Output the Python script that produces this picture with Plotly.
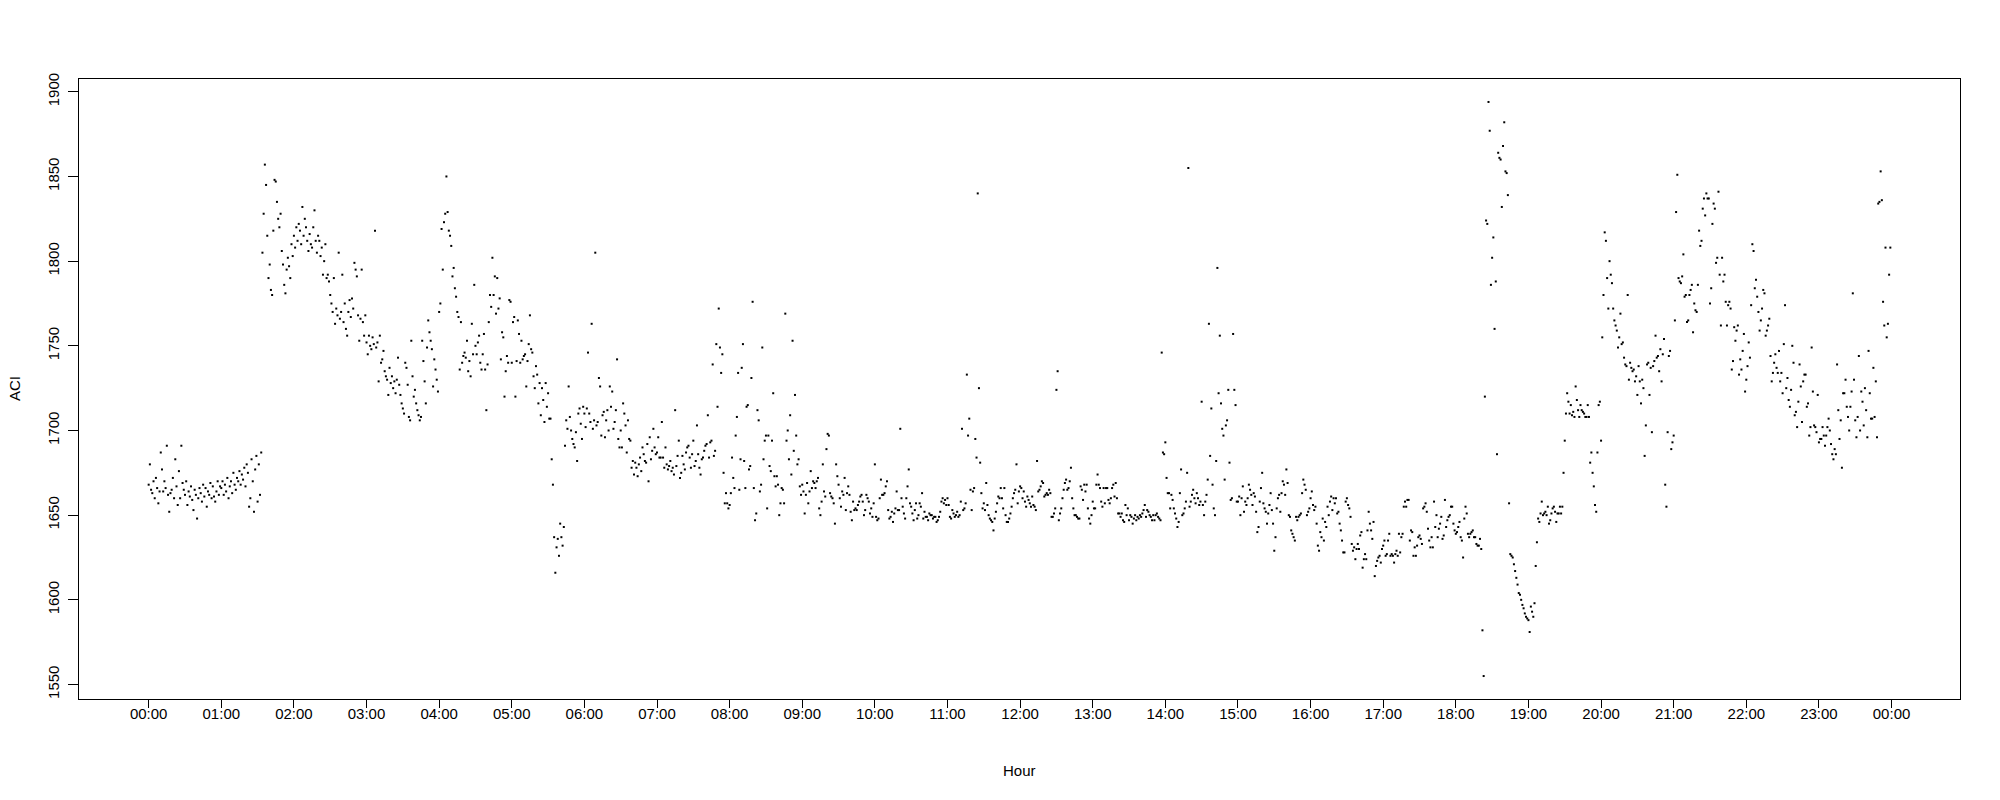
import plotly.graph_objects as go

# ---- axis labels ----
tick_labels = ["00:00", "01:00", "02:00", "03:00", "04:00", "05:00", "06:00", "07:00",
               "08:00", "09:00", "10:00", "11:00", "12:00", "13:00", "14:00", "15:00",
               "16:00", "17:00", "18:00", "19:00", "20:00", "21:00", "22:00", "23:00", "00:00"]
tick_minutes = [h * 60 for h in range(len(tick_labels))]
y_ticks = [1550, 1600, 1650, 1700, 1750, 1800, 1850, 1900]

# ---- ACI values, one per minute, grouped by hour ----
aci_h00 = [1668, 1680, 1665, 1663, 1670, 1660, 1672, 1666, 1657, 1664,
           1687, 1677, 1664, 1670, 1666, 1691, 1662, 1652, 1663, 1665,
           1672, 1660, 1683, 1667, 1656, 1676, 1660, 1691, 1669, 1665,
           1662, 1670, 1656, 1664, 1661, 1667, 1659, 1653, 1665, 1662,
           1648, 1660, 1666, 1663, 1658, 1668, 1661, 1666, 1655, 1664,
           1662, 1669, 1660, 1667, 1661, 1658, 1664, 1670, 1662, 1667]
aci_h01 = [1666, 1670, 1662, 1668, 1664, 1672, 1660, 1667, 1670, 1663,
           1675, 1668, 1665, 1672, 1670, 1676, 1668, 1674, 1671, 1678,
           1667, 1680, 1675, 1655, 1660, 1683, 1670, 1652, 1677, 1685,
           1658, 1680, 1662, 1687,
           1805, 1828, 1857, 1845, 1815, 1790, 1798, 1783, 1780, 1818,
           1848, 1847, 1835, 1825, 1820, 1828, 1806, 1798, 1786, 1781,
           1795, 1802, 1797, 1790, 1810, 1803]
aci_h02 = [1815, 1808, 1820, 1812, 1822, 1818, 1810, 1832, 1815, 1825,
           1820, 1812, 1806, 1816, 1810, 1808, 1820, 1830, 1812, 1805,
           1815, 1812, 1803, 1808, 1792, 1800, 1810, 1790, 1792, 1788,
           1780, 1775, 1770, 1790, 1763, 1772, 1768, 1805, 1766, 1770,
           1792, 1764, 1775, 1760, 1756, 1770, 1777, 1767, 1778, 1772,
           1799, 1795, 1791, 1768, 1753, 1766, 1795, 1764, 1756, 1768]
aci_h03 = [1752, 1745, 1756, 1750, 1748, 1755, 1751, 1818, 1749, 1752,
           1729, 1756, 1740, 1742, 1747, 1735, 1732, 1730, 1721, 1737,
           1728, 1732, 1725, 1729, 1722, 1730, 1743, 1727, 1721, 1716,
           1713, 1710, 1740, 1737, 1727, 1708, 1706, 1753, 1732, 1720,
           1724, 1716, 1712, 1709, 1706, 1708, 1753, 1741, 1729, 1716,
           1749, 1765, 1758, 1753, 1748, 1726, 1742, 1736, 1730, 1723]
aci_h04 = [1770, 1775, 1819, 1795, 1823, 1828, 1850, 1829, 1818, 1815,
           1809, 1791, 1796, 1784, 1779, 1770, 1767, 1736, 1764, 1740,
           1744, 1746, 1743, 1753, 1735, 1741, 1732, 1763, 1745, 1786,
           1750, 1745, 1752, 1756, 1740, 1736, 1745, 1757, 1736, 1712,
           1739, 1764, 1780, 1773, 1802, 1780, 1791, 1769, 1790, 1772,
           1778, 1742, 1758, 1755, 1720, 1735, 1744, 1740, 1777, 1776]
aci_h05 = [1740, 1764, 1767, 1720, 1741, 1765, 1757, 1740, 1753, 1742,
           1744, 1745, 1726, 1741, 1751, 1768, 1748, 1746, 1732, 1725,
           1738, 1733, 1716, 1728, 1709, 1725, 1718, 1705, 1728, 1714,
           1722, 1707, 1707, 1683, 1668, 1637, 1616, 1631, 1636, 1626,
           1645, 1637, 1632, 1643, 1691, 1706, 1701, 1726, 1708, 1700,
           1695, 1692, 1690, 1699, 1682, 1710, 1713, 1704, 1695, 1714]
aci_h06 = [1710, 1702, 1713, 1746, 1710, 1705, 1763, 1701, 1706, 1805,
           1703, 1705, 1731, 1726, 1697, 1709, 1711, 1696, 1706, 1712,
           1700, 1726, 1714, 1723, 1701, 1705, 1712, 1742, 1695, 1690,
           1700, 1690, 1716, 1710, 1703, 1687, 1706, 1695, 1694, 1678,
           1682, 1674, 1681, 1678, 1673, 1680, 1684, 1676, 1690, 1686,
           1682, 1681, 1692, 1670, 1696, 1683, 1688, 1701, 1690, 1686]
aci_h07 = [1687, 1696, 1684, 1684, 1705, 1684, 1678, 1690, 1680, 1677,
           1679, 1682, 1676, 1678, 1674, 1712, 1679, 1685, 1694, 1672,
           1675, 1685, 1680, 1677, 1687, 1690, 1691, 1684, 1678, 1686,
           1694, 1679, 1682, 1703, 1686, 1678, 1674, 1683, 1684, 1688,
           1691, 1692, 1709, 1684, 1693, 1694, 1739, 1685, 1688, 1751,
           1714, 1772, 1749, 1734, 1745, 1675, 1657, 1663, 1657, 1654]
aci_h08 = [1656, 1663, 1684, 1672, 1666, 1697, 1708, 1734, 1665, 1683,
           1737, 1751, 1682, 1666, 1714, 1715, 1677, 1679, 1731, 1776,
           1666, 1647, 1651, 1712, 1706, 1664, 1668, 1749, 1683, 1694,
           1697, 1654, 1697, 1679, 1676, 1694, 1722, 1673, 1667, 1673,
           1668, 1650, 1657, 1666, 1665, 1657, 1769, 1694, 1700, 1683,
           1709, 1674, 1753, 1688, 1721, 1697, 1680, 1683, 1667, 1662]
aci_h09 = [1668, 1664, 1651, 1662, 1669, 1657, 1664, 1676, 1666, 1670,
           1669, 1666, 1670, 1672, 1654, 1650, 1658, 1680, 1664, 1661,
           1689, 1698, 1697, 1663, 1661, 1660, 1657, 1645, 1680, 1673,
           1668, 1660, 1655, 1664, 1662, 1672, 1653, 1663, 1667, 1662,
           1652, 1647, 1658, 1653, 1654, 1653, 1656, 1658, 1661, 1662,
           1658, 1650, 1653, 1662, 1660, 1658, 1651, 1654, 1649, 1657]
aci_h10 = [1680, 1649, 1647, 1648, 1660, 1671, 1662, 1662, 1663, 1667,
           1670, 1653, 1648, 1649, 1652, 1646, 1651, 1654, 1664, 1653,
           1653, 1701, 1660, 1655, 1651, 1648, 1660, 1667, 1677, 1657,
           1655, 1651, 1647, 1653, 1657, 1648, 1650, 1657, 1655, 1663,
           1648, 1652, 1649, 1649, 1647, 1651, 1650, 1650, 1648, 1649,
           1649, 1646, 1647, 1649, 1652, 1658, 1660, 1657, 1659, 1656]
aci_h11 = [1660, 1656, 1649, 1648, 1653, 1651, 1649, 1650, 1652, 1649,
           1650, 1658, 1701, 1653, 1654, 1657, 1733, 1697, 1707, 1665,
           1653, 1664, 1666, 1695, 1684, 1840, 1725, 1681, 1663, 1654,
           1657, 1653, 1669, 1656, 1650, 1648, 1647, 1646, 1641, 1648,
           1652, 1657, 1661, 1660, 1666, 1660, 1654, 1666, 1650, 1646,
           1646, 1648, 1651, 1655, 1660, 1663, 1665, 1680, 1657, 1664]
aci_h12 = [1667, 1666, 1660, 1664, 1658, 1655, 1661, 1659, 1657, 1655,
           1661, 1656, 1655, 1653, 1682, 1664, 1665, 1667, 1670, 1669,
           1661, 1662, 1663, 1662, 1665, 1663, 1649, 1649, 1651, 1654,
           1724, 1735, 1647, 1651, 1654, 1660, 1665, 1669, 1671, 1665,
           1666, 1670, 1678, 1660, 1654, 1650, 1650, 1649, 1648, 1648,
           1667, 1665, 1659, 1668, 1664, 1668, 1654, 1648, 1645, 1650]
aci_h13 = [1658, 1654, 1654, 1668, 1674, 1668, 1666, 1658, 1655, 1666,
           1657, 1666, 1666, 1659, 1657, 1660, 1666, 1668, 1661, 1669,
           1660, 1651, 1651, 1649, 1651, 1647, 1646, 1656, 1650, 1654,
           1647, 1650, 1649, 1645, 1648, 1650, 1647, 1649, 1648, 1650,
           1649, 1651, 1653, 1656, 1649, 1653, 1652, 1650, 1649, 1647,
           1650, 1647, 1650, 1651, 1649, 1648, 1647, 1746, 1687, 1686]
aci_h14 = [1693, 1672, 1663, 1663, 1654, 1662, 1659, 1654, 1651, 1648,
           1643, 1646, 1663, 1677, 1650, 1651, 1654, 1658, 1675, 1855,
           1655, 1658, 1662, 1665, 1660, 1657,
           1663, 1660, 1656, 1658, 1717, 1656, 1650, 1658, 1662, 1671,
           1763, 1685, 1713, 1668, 1654, 1650, 1682, 1796, 1722, 1756,
           1716, 1701, 1697, 1671, 1703, 1706, 1724, 1681, 1659, 1660,
           1757, 1724, 1715, 1658]
aci_h15 = [1658, 1661, 1650, 1660, 1667, 1652, 1658, 1656, 1660, 1668,
           1665, 1662, 1656, 1663, 1661, 1652, 1640, 1643, 1658, 1666,
           1675, 1657, 1654, 1652, 1645, 1651, 1656, 1663, 1653, 1645,
           1629, 1637, 1654, 1660, 1662, 1652, 1663, 1670, 1668, 1662,
           1677, 1669, 1650, 1649, 1641, 1639, 1637, 1635, 1649, 1647,
           1649, 1650, 1651, 1663, 1671, 1668, 1665, 1650, 1652, 1654]
aci_h16 = [1660, 1664, 1656, 1653, 1655, 1645, 1632, 1629, 1640, 1637,
           1648, 1635, 1646, 1643, 1655, 1650, 1658, 1661, 1653, 1660,
           1657, 1660, 1651, 1652, 1645, 1641, 1635, 1628, 1628, 1658,
           1660, 1656, 1654, 1649, 1633, 1629, 1631, 1624, 1630, 1633,
           1630, 1638, 1640, 1619, 1624, 1627, 1624, 1641, 1652, 1645,
           1641, 1636, 1646, 1614, 1620, 1623, 1625, 1626, 1622, 1630]
aci_h17 = [1632, 1635, 1626, 1627, 1635, 1639, 1626, 1627, 1626, 1622,
           1627, 1629, 1626, 1639, 1628, 1637, 1639, 1655, 1658, 1655,
           1659, 1659, 1635, 1641, 1640, 1626, 1631, 1626, 1632, 1637,
           1638, 1636, 1633, 1654, 1655, 1657, 1652, 1642, 1635, 1631,
           1637, 1631, 1658, 1643, 1650, 1637, 1642, 1645, 1649, 1636,
           1638, 1659, 1643, 1647, 1649, 1650, 1655, 1655, 1645, 1641]
aci_h18 = [1639, 1640, 1643, 1646, 1637, 1635, 1625, 1648, 1655, 1651,
           1639, 1637, 1639, 1640, 1641, 1637, 1637, 1633, 1632, 1632,
           1636, 1630, 1582, 1555, 1720, 1824, 1822, 1894, 1877, 1786,
           1802, 1814, 1760, 1788, 1686, 1864, 1861, 1860, 1832, 1868,
           1882, 1853, 1852, 1839, 1657, 1627, 1626, 1625, 1621, 1617,
           1613, 1609, 1604, 1603, 1600, 1597, 1595, 1592, 1590, 1589]
aci_h19 = [1588, 1581, 1596, 1593, 1590, 1598, 1620, 1634, 1648, 1646,
           1651, 1658, 1650, 1651, 1652, 1650, 1655,
           1645, 1647, 1651, 1654, 1655, 1652, 1646, 1651, 1651, 1655,
           1651, 1655, 1675, 1694, 1710, 1722, 1717, 1710, 1715, 1709,
           1711, 1708, 1726, 1718, 1712, 1708, 1715, 1712, 1711, 1710,
           1708, 1708, 1715, 1708, 1681, 1687, 1675, 1667, 1656, 1652,
           1687, 1715, 1717]
aci_h20 = [1694, 1755, 1780, 1817, 1812, 1790, 1772, 1800, 1792, 1787,
           1772, 1765, 1762, 1759, 1749, 1755, 1769, 1751, 1752, 1743,
           1739, 1738, 1780, 1730, 1740, 1737, 1735, 1736, 1729, 1732,
           1721, 1738, 1729, 1716, 1730, 1725, 1685, 1703, 1739, 1740,
           1721, 1737, 1699, 1738, 1741, 1756, 1743, 1744, 1735, 1748,
           1729, 1745, 1754, 1668, 1655, 1699, 1744, 1747, 1689, 1693]
aci_h21 = [1697, 1765, 1829, 1851, 1790, 1788, 1787, 1791, 1804, 1779,
           1780, 1764, 1765, 1780, 1783, 1786, 1758, 1775, 1771, 1770,
           1786, 1818, 1809, 1812, 1831, 1837, 1827, 1840, 1837, 1837,
           1775, 1784, 1822, 1834, 1831, 1799, 1802, 1841, 1792, 1762,
           1802, 1788, 1792, 1776, 1762, 1774, 1776, 1772, 1736, 1741,
           1761, 1753, 1759, 1762, 1733, 1742, 1736, 1747, 1757, 1723]
aci_h22 = [1730, 1738, 1752, 1743, 1774, 1810, 1806, 1784, 1789, 1779,
           1770, 1759, 1765, 1772, 1783, 1781, 1756, 1759, 1762, 1766,
           1744, 1729, 1734, 1740, 1745, 1737, 1734, 1747, 1729, 1734,
           1722, 1751, 1774, 1725, 1731, 1718, 1714, 1724, 1750, 1740,
           1709, 1711, 1702, 1717, 1739, 1726, 1705, 1729, 1733, 1733,
           1714, 1716, 1697, 1702, 1749, 1723, 1703, 1702, 1699, 1721]
aci_h23 = [1693, 1695, 1695, 1702, 1697, 1691, 1697, 1702, 1707, 1700,
           1692, 1686, 1683, 1689, 1686, 1739, 1712, 1695, 1706, 1678,
           1722, 1722, 1730, 1714, 1708, 1700, 1714, 1723, 1781, 1730,
           1706, 1696, 1708, 1744, 1700, 1723, 1717, 1703, 1725, 1712,
           1696, 1747, 1722, 1707, 1707, 1737, 1708, 1729, 1696, 1834,
           1835, 1853, 1836, 1776, 1762, 1808, 1755, 1763, 1792, 1808]

hourly = [aci_h00, aci_h01, aci_h02, aci_h03, aci_h04, aci_h05, aci_h06, aci_h07,
          aci_h08, aci_h09, aci_h10, aci_h11, aci_h12, aci_h13, aci_h14, aci_h15,
          aci_h16, aci_h17, aci_h18, aci_h19, aci_h20, aci_h21, aci_h22, aci_h23]

minutes, aci = [], []
for h, vals in enumerate(hourly):
    for i, v in enumerate(vals):
        minutes.append(h * 60 + i)
        aci.append(v)

# R-style 4% axis padding
x_lo, x_hi = 0, 1439
xpad = 0.04 * (x_hi - x_lo)
y_lo, y_hi = min(aci), max(aci)
ypad = 0.04 * (y_hi - y_lo)

FONT = "Liberation Sans, Arial, sans-serif"

fig = go.Figure(go.Scatter(
    x=minutes, y=aci, mode="markers",
    marker=dict(symbol="square", size=2, color="black", line=dict(width=0)),
    hoverinfo="x+y", showlegend=False,
))

# body margin removed (post_script); plot box target in page px: x 79..1960, y 79..699
W, H = 1990, 790
L, T = 79, 79
R = W - 1960
B = H - 699
plot_w = 1960 - 79
plot_h = 699 - 79

fig.update_layout(
    width=W, height=H,
    margin=dict(l=L, r=R, t=T, b=B, pad=0),
    paper_bgcolor="white", plot_bgcolor="white",
    font=dict(family=FONT, size=15, color="black"),
    xaxis=dict(
        range=[x_lo - xpad, x_hi + xpad],
        tickmode="array", tickvals=tick_minutes, ticktext=tick_labels,
        ticks="outside", ticklen=8, tickwidth=1, tickcolor="black",
        showline=True, linecolor="black", linewidth=1, mirror=True,
        showgrid=False, zeroline=False,
        tickfont=dict(family=FONT, size=15, color="black"),
        ticklabelstandoff=-7,
    ),
    yaxis=dict(
        range=[y_lo - ypad, y_hi + ypad],
        tickmode="array", tickvals=y_ticks,
        ticks="outside", ticklen=10, tickwidth=1, tickcolor="black",
        tickangle=-90,
        showline=True, linecolor="black", linewidth=1, mirror=True,
        showgrid=False, zeroline=False,
        tickfont=dict(family=FONT, size=15, color="black"),
        ticklabelstandoff=3,
    ),
    annotations=[
        dict(text="Hour", xref="paper", yref="paper", x=0.5, y=-(770 - 699) / plot_h,
             xanchor="center", yanchor="middle", showarrow=False,
             font=dict(family=FONT, size=15, color="black")),
        dict(text="ACI", xref="paper", yref="paper", x=-(79 - 14) / plot_w, y=0.5,
             xanchor="center", yanchor="middle", textangle=-90, showarrow=False,
             font=dict(family=FONT, size=15, color="black")),
    ],
)

fig.write_html("out.html", config={"displayModeBar": False},
               post_script="document.body.style.margin='0px';")
